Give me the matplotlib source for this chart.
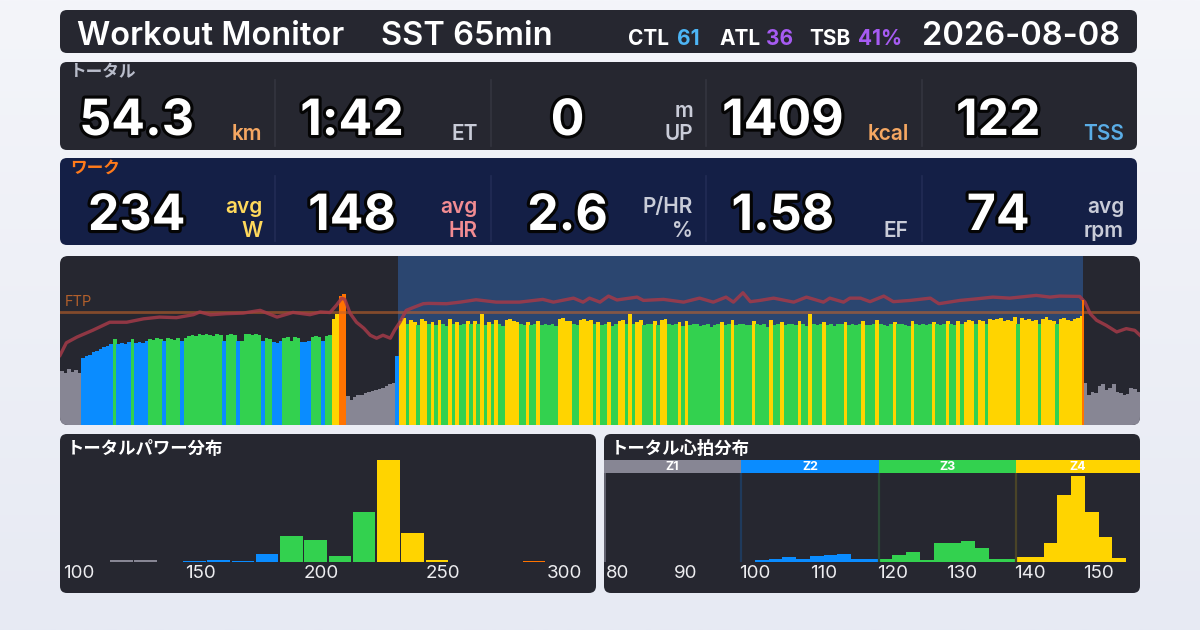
import numpy as np
import matplotlib
matplotlib.use("Agg")
import matplotlib.pyplot as plt
from matplotlib.patches import FancyBboxPatch, Rectangle
from matplotlib import transforms
import matplotlib.patheffects as pe

plt.rcParams['font.family'] = ['Inter', 'Noto Sans CJK JP', 'DejaVu Sans']

# ---------------- data ----------------
title_main = "Workout Monitor"
title_workout = "SST 65min"
fitness_labels = ["CTL", "ATL", "TSB"]
fitness_values = ["61", "36", "41%"]
ride_date = "2026-08-08"

total_section = "トータル"
total_values = ["54.3", "1:42", "0", "1409", "122"]
total_units = [["km"], ["ET"], ["m", "UP"], ["kcal"], ["TSS"]]

work_section = "ワーク"
work_values = ["234", "148", "2.6", "1.58", "74"]
work_units = [["avg", "W"], ["avg", "HR"], ["P/HR", "%"], ["EF"], ["avg", "rpm"]]

ftp_watts = 244
zone_fractions = [0.55, 0.75, 0.90, 1.05]
ride_minutes = 102
work_start_min = 31.9
work_end_min = 96.6
sample_seconds = 20

power_warmup = [118, 112, 122, 115, 120, 113,
                146, 150, 152, 158, 160, 165, 170, 172, 175, 186, 176, 178, 176, 179, 186, 177, 180, 178, 181,
                187, 184, 188, 186, 182, 189, 187, 185, 188, 181, 189,
                192, 195, 193, 196, 194, 197, 195, 193, 196, 194,
                182, 195, 197, 194, 181, 183, 196, 198, 195, 197, 194,
                181, 188, 187, 180, 178, 182, 189, 191, 183, 190, 188, 180, 179, 181, 190, 192,
                191, 182, 193, 195,
                230, 241, 279, 284,
                62, 55, 60, 64, 66, 69, 72, 74, 76, 78, 81, 84, 88, 91,
                150]
power_work = [226, 231, 219, 228, 224, 217, 229, 225, 218, 223,
              216, 227, 219, 215, 229, 218, 224, 217, 219, 226,
              218, 225, 219, 241, 216, 224, 218, 227, 219, 215,
              228, 230, 226, 224, 218, 217, 223, 216, 219, 225,
              217, 218, 216, 219, 214, 229, 231, 226, 225, 219,
              216, 227, 230, 225, 228, 218, 224, 217, 219, 223,
              215, 218, 226, 228, 219, 240, 218, 224, 227, 216,
              219, 218, 225, 217, 228, 229, 219, 216, 218, 224,
              215, 226, 217, 219, 218, 214, 216, 219, 213, 217,
              218, 224, 216, 219, 228, 217, 218, 219, 216, 217,
              225, 218, 216, 219, 213, 227, 217, 218, 224, 216,
              219, 218, 217, 226, 219, 215, 241, 218, 216, 219,
              223, 217, 218, 215, 219, 218, 224, 217, 219, 216,
              218, 225, 217, 216, 219, 227, 218, 217, 215, 219,
              224, 218, 219, 217, 214, 226, 218, 216, 219, 217,
              218, 223, 219, 216, 218, 225, 219, 217, 226, 218,
              224, 227, 225, 219, 228, 226, 218, 230, 227, 229,
              232, 226, 228, 225, 233, 219, 231, 227, 229, 226,
              228, 219, 230, 234, 227, 225, 218, 229, 231, 227,
              226, 229, 232, 235]
power_cooldown = [90, 66, 72, 70, 84, 88, 76, 80, 89, 72, 70, 66, 68, 80, 78, 72]

hr_time_min = [0, 0.6, 1.6, 3.1, 4.7, 6.3, 7.9, 9.4, 11.0, 12.6, 13.2, 14.2, 15.7, 17.3, 18.9,
               20.5, 22.0, 23.6, 24.6, 25.5, 26.1, 26.6, 26.9, 27.4, 28.0, 28.7, 29.3, 29.9,
               30.5, 31.2, 31.6, 32.1, 32.7, 33.4, 34.3, 34.8, 36.5, 37.8, 39.3, 41.2, 43.4,
               45.6, 46.6, 48.5, 49.4, 50.0, 51.0, 51.8, 52.6, 54.5, 55.1, 57.0, 58.9, 60.4,
               61.7, 62.9, 63.6, 64.5, 65.2, 66.1, 67.4, 69.3, 70.5, 72.1, 72.7, 74.0, 74.6,
               75.6, 76.5, 77.8, 78.7, 80.3, 82.2, 83.0, 85.0, 86.6, 88.1, 89.7, 92.2, 93.5,
               94.4, 96.3, 96.8, 97.3, 97.9, 98.8, 99.8, 100.7, 101.5, 102.0]
hr_bpm = [101, 112, 117, 123, 130, 130, 133, 134.5, 134, 136.6, 139, 136.5, 137.5, 138, 140.4,
          134.5, 138.6, 136.6, 139, 138.5, 144.8, 151, 150, 137.8, 130, 124.7, 118.6, 116,
          118.6, 116, 123, 130, 140.4, 143, 146.2, 146.5, 146.2, 147.6, 149.7, 147.6, 147.6,
          150, 147.6, 151.1, 147.6, 151.1, 147.6, 152.9, 149.5, 152, 149.1, 150, 147.6, 151.1,
          147.6, 152, 147.6, 155.8, 148, 149.1, 151.1, 147.6, 152, 147.6, 151.1, 147.6, 151.1,
          151.1, 148, 152.9, 148, 149.1, 151.1, 146.2, 149.1, 150.5, 152, 151.1, 153.5, 152,
          152.9, 152.6, 147.6, 137.5, 131.7, 127.3, 121.5, 124.4, 122.9, 118.6]

power_hist_title = "トータルパワー分布"
power_hist_bin_start = [112.5, 122.5, 142.5, 152.5, 162.5, 172.5, 182.5, 192.5, 202.5,
                        212.5, 222.5, 232.5, 242.5, 282.5]
power_hist_minutes = [0.8, 0.8, 0.4, 0.8, 0.4, 3.2, 10.5, 8.9, 2.4, 20.1, 41.0, 11.6, 0.8, 0.4]
power_hist_ticks = [100, 150, 200, 250, 300]

hr_hist_title = "トータル心拍分布"
hr_hist_bin_start = [100, 102, 104, 106, 108, 110, 112, 114, 116, 118, 120, 122, 124, 126,
                     128, 130, 132, 134, 136, 138, 140, 142, 144, 146, 148, 150, 152]
hr_hist_minutes = [0.3, 0.5, 0.8, 0.5, 1.0, 1.2, 1.4, 0.5, 0.5,
                   0.5, 1.2, 1.7, 0.3, 3.4, 3.4, 3.8, 2.5, 0.5, 0.5,
                   0.8, 0.8, 3.3, 12.0, 15.5, 9.0, 4.4, 0.7]
hr_zone_edges = [98, 118, 138]
hr_zone_names = ["Z1", "Z2", "Z3", "Z4"]
hr_hist_ticks = [80, 90, 100, 110, 120, 130, 140, 150]

# ---------------- styling ----------------
W, H = 1200, 630
DARK = '#262730'
NAVY = '#141F46'
ZONE_COLORS = ['#878694', '#0A8CFF', '#33D14F', '#FFD400', '#FF7300']

fig = plt.figure(figsize=(12, 6.3), dpi=100)
ov = fig.add_axes([0, 0, 1, 1])
ov.set_xlim(0, W)
ov.set_ylim(H, 0)
ov.axis('off')
ov.set_zorder(0)

top = np.array([0xF4, 0xF5, 0xFA]) / 255
bot = np.array([0xE7, 0xEA, 0xF3]) / 255
g = np.linspace(0, 1, 256)[:, None, None]
grad = top[None, None, :] * (1 - g) + bot[None, None, :] * g
ov.imshow(grad, extent=[0, W, H, 0], aspect='auto', zorder=0)


def panel(x0, y0, x1, y1, color, r=7):
    p = FancyBboxPatch((x0, y0), x1 - x0, y1 - y0,
                       boxstyle=f"round,pad=0,rounding_size={r}",
                       fc=color, ec='none', zorder=1)
    ov.add_patch(p)
    return p


def add_axes(x0, y0, x1, y1):
    a = fig.add_axes([x0 / W, 1 - y1 / H, (x1 - x0) / W, (y1 - y0) / H])
    a.set_zorder(2)
    a.patch.set_visible(False)
    return a


panel(60, 10, 1137, 53, DARK)
panel(60, 62, 1137, 150, DARK)
panel(60, 158, 1137, 245, NAVY)
chart_patch = panel(60, 256, 1140, 425, DARK, r=8)
panel(60, 434, 596, 593, DARK)
panel(604, 434, 1140, 593, DARK)

# ---------------- header ----------------
ov.text(77, 45, title_main, fontsize=23.5, fontweight='semibold', color='white', va='baseline', zorder=5)
ov.text(381, 45, title_workout, fontsize=23.5, fontweight='semibold', color='white', va='baseline', zorder=5)
fit_colors = ['#4DB5F5', '#A65BF2', '#A65BF2']
label_x = [628, 719, 809]
value_x = [677, 766, 858]
for lab, val, c, lx, vx in zip(fitness_labels, fitness_values, fit_colors, label_x, value_x):
    ov.text(lx, 45, lab, fontsize=15, fontweight='bold', color='white', va='baseline', zorder=5)
    ov.text(vx, 45, val, fontsize=15, fontweight='bold', color=c, va='baseline', zorder=5)
ov.text(1120, 45, ride_date, fontsize=23.5, fontweight='semibold', color='white', va='baseline',
        ha='right', zorder=5)

# ---------------- metric rows ----------------
cell_edges = np.linspace(60, 1137, 6)
num_fx = [pe.withStroke(linewidth=4.5, foreground='#050505')]


def metric_row(section, sec_color, sec_y, values, units, unit_colors, base_y, unit_y, div_y, div_c):
    ov.text(70, sec_y, section, fontsize=12, fontweight='bold', color=sec_color,
            va='center', family=['Noto Sans CJK JP', 'DejaVu Sans'], zorder=5)
    for i, (v, u, uc) in enumerate(zip(values, units, unit_colors)):
        x0, x1 = cell_edges[i], cell_edges[i + 1]
        cx = (x0 + x1) / 2 - 31
        ov.text(cx, base_y, v, fontsize=36, fontweight='bold', color='white', ha='center',
                va='baseline', path_effects=num_fx, zorder=5)
        lines = list(u)
        ys = unit_y[-len(lines):]
        for ln, yy in zip(lines, ys):
            ov.text(x1 - 13, yy, ln, fontsize=15, fontweight='semibold', color=uc, ha='right',
                    va='baseline', zorder=5)
        if i > 0:
            ov.plot([x0, x0], div_y, color=div_c, lw=1.2, zorder=4)


metric_row(total_section, '#B9BDCB', 72.5, total_values, total_units,
           ['#F5A762', '#C9CCD8', '#C9CCD8', '#F5A762', '#5AADE6'],
           135, [117, 140], [80, 146], '#34353F')
metric_row(work_section, '#FF7A1A', 167.5, work_values, work_units,
           ['#FFD95C', '#F28C92', '#C9CCD8', '#C9CCD8', '#C9CCD8'],
           230, [213, 237], [176, 241], '#222C55')

# ---------------- main time chart ----------------
power = np.array(power_warmup + power_work + power_cooldown, dtype=float)
t_start = np.arange(len(power)) * sample_seconds / 60.0
bounds = [f * ftp_watts for f in zone_fractions]
bar_colors = [ZONE_COLORS[int(np.searchsorted(bounds, v, side='right'))] for v in power]

ax = add_axes(60, 256, 1140, 425)
ax.set_xlim(0, ride_minutes)
ax.set_ylim(0, 1.5 * ftp_watts)
ax.axis('off')
span = ax.axvspan(work_start_min, work_end_min, color='#2B4670', lw=0, zorder=0)
bars = ax.bar(t_start, power, width=sample_seconds / 60.0 * 1.06, align='edge',
              color=bar_colors, lw=0, zorder=2)
ftp_line = ax.axhline(ftp_watts, color='#C0622A', alpha=0.6, lw=2, zorder=3)
ax.annotate("FTP", xy=(0.004, ftp_watts),
            xycoords=transforms.blended_transform_factory(ax.transAxes, ax.transData),
            xytext=(0, 2.5), textcoords='offset points', fontsize=10.5, color='#B3602C',
            va='bottom', ha='left', zorder=4)

hx = add_axes(60, 256, 1140, 425)
hx.set_xlim(0, ride_minutes)
hx.set_ylim(40, 188)
hx.axis('off')
hr_line, = hx.plot(hr_time_min, hr_bpm, color='#A43A48', lw=2.4, alpha=0.85, zorder=3)
hr_end = float(np.interp(work_end_min, hr_time_min, hr_bpm))
vmark = hx.vlines(work_end_min, 40, hr_end, color='#FF7300', lw=1.4, zorder=4)

for art in [span, ftp_line, hr_line, vmark] + list(bars.patches):
    art.set_clip_path(chart_patch)

# ---------------- power histogram ----------------
ov.text(67, 449.5, power_hist_title, fontsize=12.5, fontweight='bold', color='white', va='center',
        family=['Noto Sans CJK JP', 'DejaVu Sans'], zorder=5)
pax = add_axes(60, 460, 596, 562)
pax.set_xlim(92.2, 313)
pax.set_ylim(0, max(power_hist_minutes))
pax.axis('off')
ph_colors = [ZONE_COLORS[int(np.searchsorted(bounds, b + 5, side='right'))] for b in power_hist_bin_start]
pax.bar(np.array(power_hist_bin_start) + 0.35, power_hist_minutes, width=9.3, align='edge',
        color=ph_colors, lw=0)
ptr = transforms.blended_transform_factory(pax.transData, pax.transAxes)
for tk in power_hist_ticks:
    pax.text(tk, -11.5 / 102, str(tk), transform=ptr, fontsize=13.5, color='#EDEDF0',
             ha='center', va='center')

# ---------------- heart-rate histogram ----------------
ov.text(611, 449.5, hr_hist_title, fontsize=12.5, fontweight='bold', color='white', va='center',
        family=['Noto Sans CJK JP', 'DejaVu Sans'], zorder=5)
hax = add_axes(604, 460, 1140, 561.7)
hx0, hx1 = 78.07, 156.0
hax.set_xlim(hx0, hx1)
band_lo = (561.7 - 473.3) / 101.7
hax.set_ylim(0, max(hr_hist_minutes) / ((561.7 - 475.7) / 101.7))
hax.axis('off')
htr = transforms.blended_transform_factory(hax.transData, hax.transAxes)
zb = [hx0] + hr_zone_edges + [hx1]
for i, name in enumerate(hr_zone_names):
    hax.add_patch(Rectangle((zb[i], band_lo), zb[i + 1] - zb[i], 1 - band_lo, transform=htr,
                            fc=ZONE_COLORS[i], ec='none', clip_on=False))
    hax.text((zb[i] + zb[i + 1]) / 2, (band_lo + 1) / 2, name, transform=htr, fontsize=9,
             fontweight='bold', color='white', ha='center', va='center')
div_colors = ['#1F3A5C', '#2A4A36', '#4A4427']
hax.vlines(hr_zone_edges, 0, band_lo, transform=htr, colors=div_colors, lw=1.6)
hax.vlines([hx0 + 0.1], 0, band_lo, transform=htr, colors=['#6F6E7C'], lw=1.2)
hh_colors = [ZONE_COLORS[int(np.searchsorted(hr_zone_edges, b + 1, side='right'))] for b in hr_hist_bin_start]
hax.bar(hr_hist_bin_start, hr_hist_minutes, width=2.0, align='edge', color=hh_colors, lw=0)
for tk in hr_hist_ticks:
    hax.text(tk, (561.7 - 573.3) / 101.7, str(tk), transform=htr, fontsize=13.5, color='#EDEDF0',
             ha='center', va='center')

fig.savefig('out.png', dpi=100)
